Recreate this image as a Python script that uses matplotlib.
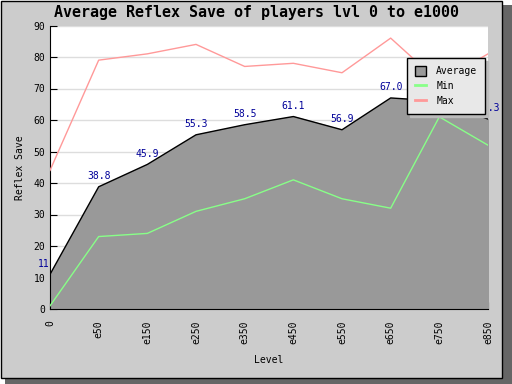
import matplotlib
matplotlib.use('Agg')
import matplotlib.pyplot as plt
from matplotlib.patches import Rectangle, Patch
from matplotlib.lines import Line2D

levels = ['0', 'e50', 'e150', 'e250', 'e350', 'e450', 'e550', 'e650', 'e750', 'e850']
average = [11, 38.8, 45.9, 55.3, 58.5, 61.1, 56.9, 67.0, 66.0, 60.3]
minimum = [1, 23, 24, 31, 35, 41, 35, 32, 61, 52]
maximum = [44, 79, 81, 84, 77, 78, 75, 86, 72, 81]
avg_labels = ['11', '38.8', '45.9', '55.3', '58.5', '61.1', '56.9', '67.0', '66.0', '60.3']

plt.rcParams['font.family'] = 'DejaVu Sans Mono'

W, H = 512, 384
fig = plt.figure(figsize=(W / 100, H / 100), dpi=100)
fig.patch.set_facecolor('white')

# frame + drop shadow
fig.patches.append(Rectangle((5 / W, 0), 507 / W, 379 / H, transform=fig.transFigure,
                             facecolor='#666666', edgecolor='none', zorder=-2))
fig.patches.append(Rectangle((0.5 / W, 6 / H), 501.5 / W, 377.5 / H, transform=fig.transFigure,
                             facecolor='#cccccc', edgecolor='black', linewidth=1, zorder=-1))

ax = fig.add_axes([50 / W, 1 - 309 / H, 438 / W, 283.5 / H])
ax.set_facecolor('white')

x = list(range(len(levels)))
ax.fill_between(x, 0, average, color='#999999', zorder=2)
ax.plot(x, average, color='black', linewidth=1, zorder=2.5)
ax.plot(x, minimum, color='#88ff88', linewidth=1, zorder=2.6)
ax.plot(x, maximum, color='#ff9999', linewidth=1, zorder=2.6)

for i, (xi, yi, lab) in enumerate(zip(x, average, avg_labels)):
    ha = 'right' if i == 0 else 'center'
    ax.annotate(lab, (xi, yi), xytext=(0, 4), textcoords='offset points',
                ha=ha, va='bottom', fontsize=7, color='#000099',
                annotation_clip=False, zorder=3)

ax.set_xlim(0, len(levels) - 1)
ax.set_ylim(0, 90)
ax.set_yticks(range(0, 91, 10))
ax.set_xticks(x)
ax.set_xticklabels(levels, rotation=90)
ax.tick_params(direction='in', length=5, labelsize=7, color='black')
ax.tick_params(axis='x', pad=8)
ax.grid(axis='y', color='#dddddd', linewidth=1, zorder=0)
ax.set_axisbelow(True)
for s in ['top', 'right']:
    ax.spines[s].set_visible(False)

ax.set_xlabel('Level', fontsize=7, labelpad=8)
ax.set_ylabel('Reflex Save', fontsize=7, labelpad=6)

fig.text(0.5, 1 - 13 / H, 'Average Reflex Save of players lvl 0 to e1000',
         ha='center', va='center', fontsize=10.8, fontweight='bold')

handles = [Patch(facecolor='#999999', edgecolor='black'),
           Line2D([], [], color='#88ff88', linewidth=2),
           Line2D([], [], color='#ff9999', linewidth=2)]
leg = ax.legend(handles, ['Average', 'Min', 'Max'], loc='upper left',
                bbox_to_anchor=(407 / W, 1 - 58 / H), bbox_transform=fig.transFigure,
                borderaxespad=0, fontsize=7, frameon=True, fancybox=False,
                shadow={'color': '#bbbbbb', 'alpha': 1},
                handlelength=1.2, handleheight=1.2, handletextpad=1.0,
                borderpad=0.8, labelspacing=0.5)
leg.get_frame().set_facecolor('#e8e8e8')
leg.get_frame().set_edgecolor('black')
leg.get_frame().set_alpha(1)
leg.set_zorder(10)

plt.savefig('out.png', dpi=100)
